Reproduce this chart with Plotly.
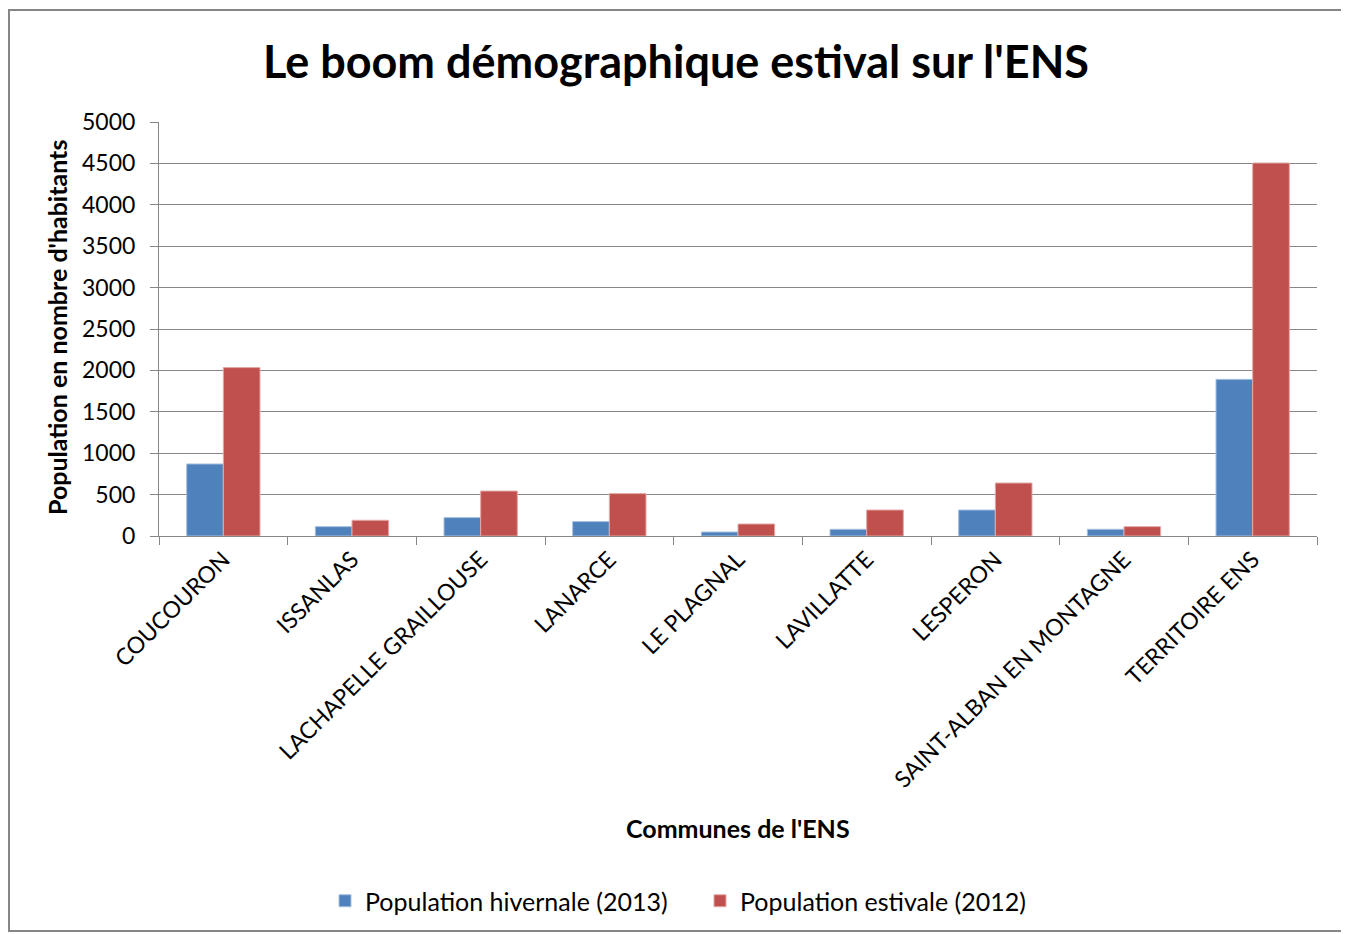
import plotly.graph_objects as go

communes = ["COUCOURON", "ISSANLAS", "LACHAPELLE GRAILLOUSE", "LANARCE", "LE PLAGNAL",
            "LAVILLATTE", "LESPERON", "SAINT-ALBAN EN MONTAGNE", "TERRITOIRE ENS"]
pop_hiver = [870, 113, 222, 174, 48, 81, 314, 81, 1892]
pop_ete = [2034, 190, 543, 512, 145, 314, 640, 113, 4505]

FONT = "Lato"
OFF = 8  # page body margin
W, H = 1349 - OFF, 934 - OFF
L = 159 - OFF
R = W - (1317 - OFF)
T = 122 - OFF
B = H - (536 - OFF)
pw, ph = W - L - R, H - T - B


def px(x):
    """reference-screen x -> paper x"""
    return (x - OFF - L) / pw


def py(y):
    """reference-screen y -> paper y"""
    return (H - B - (y - OFF)) / ph


fig = go.Figure()
fig.add_trace(go.Bar(x=communes, y=pop_hiver, name="Population hivernale (2013)",
                     marker=dict(color="#4F81BD", line=dict(color="#A7C0DE", width=1))))
fig.add_trace(go.Bar(x=communes, y=pop_ete, name="Population estivale (2012)",
                     marker=dict(color="#C0504D", line=dict(color="#E3A9A7", width=1))))

fig.update_layout(
    width=W, height=H,
    margin=dict(l=L, r=R, t=T, b=B, autoexpand=False),
    paper_bgcolor="white", plot_bgcolor="white",
    barmode="group", bargap=0.43, bargroupgap=0,
    font=dict(family=FONT, color="black"),
    title=dict(text="<b>Le boom démographique estival sur l'ENS</b>",
               font=dict(family=FONT, size=45, color="black"),
               x=(676 - OFF) / W, xref="container", xanchor="center",
               y=1 - (62 - OFF) / H, yref="container", yanchor="middle"),
    showlegend=True,
    legend=dict(orientation="h", x=px(700), xanchor="center", y=py(901), yanchor="middle",
                font=dict(family=FONT, size=25, color="black"), traceorder="normal",
                entrywidth=330, entrywidthmode="pixels",
                bgcolor="rgba(0,0,0,0)"),
)

fig.update_xaxes(
    showline=True, linecolor="#868686", linewidth=1,
    ticks="outside", ticklen=8, tickcolor="#868686", tickson="boundaries",
    tickangle=-45, tickfont=dict(family=FONT, size=23, color="black"),
    showgrid=False, automargin=False,
)
fig.update_yaxes(
    range=[0, 5000], dtick=500, tick0=0,
    showline=True, linecolor="#868686", linewidth=1,
    ticks="outside", ticklen=8, tickcolor="#868686", ticklabelstandoff=10,
    showgrid=True, gridcolor="#868686", gridwidth=1,
    tickfont=dict(family=FONT, size=23, color="black"),
    zeroline=False, automargin=False,
)

fig.add_annotation(text="<b>Communes de l'ENS</b>", xref="paper", yref="paper",
                   x=px(738), y=py(828), showarrow=False, xanchor="center", yanchor="middle",
                   font=dict(family=FONT, size=25, color="black"))
fig.add_annotation(text="<b>Population en nombre d'habitants</b>", xref="paper", yref="paper",
                   x=px(57), y=py(328), showarrow=False, xanchor="center", yanchor="middle",
                   textangle=-90, font=dict(family=FONT, size=25, color="black"))

fig.add_shape(type="rect", xref="paper", yref="paper",
              x0=px(OFF + 1), x1=px(1346), y0=py(931), y1=py(10),
              line=dict(color="#868686", width=2), fillcolor="rgba(0,0,0,0)", layer="below")

fig.write_html("out.html")
